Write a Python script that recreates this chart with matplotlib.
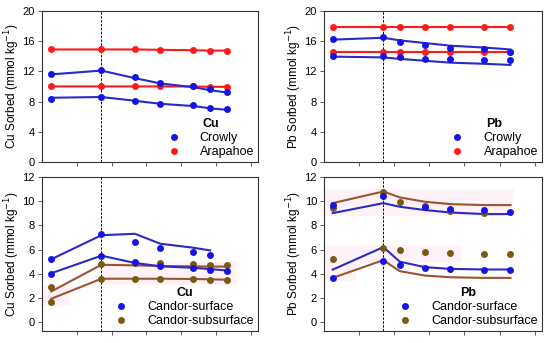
import matplotlib.pyplot as plt
import numpy as np

plt.rcParams['font.family'] = ['Liberation Sans', 'DejaVu Sans']

# x positions (same steps used in all panels)
x_cu = [0.27, 1.71, 2.67, 3.40, 4.35, 4.83, 5.31]
x_pb = [0.25, 1.69, 2.16, 2.88, 3.60, 4.57, 5.31]

# top left: Cu, Crowly / Arapahoe
cu_crow_hi = [11.7, 12.2, 11.2, 10.5, 10.0, 9.6, 9.3]
cu_crow_hi_fit = [11.6, 12.1, 11.1, 10.4, 9.9, 9.5, 9.2]
cu_crow_lo = [8.3, 8.6, 8.1, 7.7, 7.5, 7.2, 7.0]
cu_crow_lo_fit = [8.5, 8.6, 8.1, 7.7, 7.4, 7.1, 6.9]
cu_arap_hi = [14.9, 14.9, 14.9, 14.85, 14.8, 14.75, 14.75]
cu_arap_lo = [10.0, 10.0, 10.0, 10.0, 10.0, 9.95, 9.95]

# top right: Pb, Crowly / Arapahoe
pb_crow_hi = [16.3, 16.5, 15.9, 15.5, 15.1, 14.9, 14.6]
pb_crow_hi_fit = [16.2, 16.45, 16.1, 15.75, 15.4, 15.15, 14.9]
pb_crow_lo = [14.0, 14.0, 13.9, 13.7, 13.6, 13.5, 13.45]
pb_crow_lo_fit = [13.95, 13.85, 13.65, 13.4, 13.15, 13.0, 12.85]
pb_arap_hi = [17.9, 17.9, 17.9, 17.9, 17.9, 17.9, 17.9]
pb_arap_lo = [14.5, 14.5, 14.5, 14.5, 14.5, 14.5, 14.5]

# bottom left: Cu, Candor
cu_surf_hi = [5.2, 7.3, 6.65, 6.15, 5.8, 5.55, np.nan]
cu_surf_hi_fit = [5.2, 7.18, 7.3, 6.48, 6.15, 5.93, np.nan]
cu_surf_lo = [3.95, 5.5, 4.95, 4.65, 4.45, 4.3, 4.2]
cu_surf_lo_fit = [4.05, 5.5, 4.9, 4.62, 4.5, 4.39, 4.28]
cu_sub_hi = [2.9, 4.78, 4.86, 4.86, 4.8, 4.75, 4.72]
cu_sub_hi_fit = [2.55, 4.75, 4.7, 4.65, 4.62, 4.6, 4.6]
cu_sub_lo = [1.65, 3.6, 3.6, 3.6, 3.55, 3.52, 3.48]
cu_sub_lo_fit = [1.95, 3.6, 3.6, 3.6, 3.58, 3.55, 3.52]

# bottom right: Pb, Candor
pb_surf_hi = [9.65, 10.4, np.nan, 9.5, 9.35, 9.25, 9.1]
pb_surf_hi_fit = [9.0, 9.82, 9.52, 9.25, 9.05, 8.92, 8.92]
pb_surf_lo = [3.67, 5.05, 4.7, 4.5, 4.4, 4.3, 4.3]
pb_surf_lo_fit = [4.35, 6.2, 5.0, 4.55, 4.41, 4.36, 4.36]
pb_sub_hi = [9.45, 10.7, 9.95, 9.55, 9.2, 8.97, np.nan]
pb_sub_hi_fit = [9.82, 10.78, 10.29, 9.93, 9.74, 9.66, 9.66]
pb_sub_lo = [5.2, 6.15, 5.93, 5.8, 5.7, 5.65, 5.65]
pb_sub_lo_fit = [3.67, 5.13, 4.22, 3.86, 3.72, 3.67, 3.67]

# faint pink highlight boxes seen behind the Candor panels (x0, x1, y0, y1)
cu_pink = [(1.71, 5.6, 3.1, 4.95), (0.0, 0.8, 1.4, 3.1)]
pb_pink = [(0.0, 5.4, 8.8, 11.0), (0.0, 3.9, 4.9, 6.4), (0.0, 0.9, 3.4, 5.5)]

blue = '#1414e6'
blue_line = '#2a2ac8'
red = '#ff1a1a'
brown = '#7a5a12'
brown_line = '#a0522d'
pink = '#fff2f8'

fig = plt.figure(figsize=(5.5, 3.43), dpi=100)
ax1 = fig.add_axes([0.076, 0.528, 0.393, 0.440])
ax2 = fig.add_axes([0.589, 0.528, 0.396, 0.440])
ax3 = fig.add_axes([0.076, 0.035, 0.393, 0.450])
ax4 = fig.add_axes([0.589, 0.035, 0.396, 0.450])


def series(ax, x, pts, fit, c, lc, label=None):
    ax.plot(x, fit, '-', color=lc, lw=1.5, zorder=2)
    ax.plot(x, pts, 'o', color=c, ms=5, mec='none', zorder=3, label=label)


def shade(ax, boxes):
    for x0, x1, y0, y1 in boxes:
        ax.fill_between([x0, x1], y0, y1, color=pink, lw=0, zorder=0)


def style(ax, el, ylim, yticks, ylabel, title):
    ax.set_xlim(0, 6.2)
    ax.set_ylim(*ylim)
    ax.set_yticks(yticks)
    ax.set_xticks([1, 2, 3, 4, 5, 6])
    ax.set_xticklabels([])
    ax.tick_params(labelsize=8, length=3, width=0.6, color='#444444', pad=2)
    for s in ax.spines.values():
        s.set_linewidth(0.8)
        s.set_color('#333333')
    ax.axvline(el, color='black', ls=(0, (2.5, 1.5)), lw=0.7, zorder=1)
    ax.set_ylabel(ylabel, fontsize=8.5, labelpad=0.5)
    leg = ax.legend(loc='lower right', frameon=False, fontsize=9, title=title,
                    handletextpad=1.6, borderaxespad=0.1, labelspacing=0.15,
                    handlelength=1.0, borderpad=0.2)
    leg.get_title().set_fontweight('bold')
    leg.get_title().set_fontsize(9)


series(ax1, x_cu, cu_arap_hi, cu_arap_hi, red, red)
series(ax1, x_cu, cu_arap_lo, cu_arap_lo, red, red)
series(ax1, x_cu, cu_crow_hi, cu_crow_hi_fit, blue, blue_line, 'Crowly')
series(ax1, x_cu, cu_crow_lo, cu_crow_lo_fit, blue, blue_line)
ax1.plot([], [], 'o', color=red, ms=5, mec='none', label='Arapahoe')
style(ax1, x_cu[1], (0, 20), [0, 4, 8, 12, 16, 20],
      'Cu Sorbed (mmol kg$^{-1}$)', 'Cu')

series(ax2, x_pb, pb_arap_hi, pb_arap_hi, red, red)
series(ax2, x_pb, pb_arap_lo, pb_arap_lo, red, red)
series(ax2, x_pb, pb_crow_hi, pb_crow_hi_fit, blue, blue_line, 'Crowly')
series(ax2, x_pb, pb_crow_lo, pb_crow_lo_fit, blue, blue_line)
ax2.plot([], [], 'o', color=red, ms=5, mec='none', label='Arapahoe')
style(ax2, x_pb[1], (0, 20), [0, 4, 8, 12, 16, 20],
      'Pb Sorbed (mmol kg$^{-1}$)', 'Pb')

shade(ax3, cu_pink)
series(ax3, x_cu, cu_sub_hi, cu_sub_hi_fit, brown, brown_line)
series(ax3, x_cu, cu_sub_lo, cu_sub_lo_fit, brown, brown_line)
series(ax3, x_cu, cu_surf_hi, cu_surf_hi_fit, blue, blue_line, 'Candor-surface')
series(ax3, x_cu, cu_surf_lo, cu_surf_lo_fit, blue, blue_line)
ax3.plot([], [], 'o', color=brown, ms=5, mec='none', label='Candor-subsurface')
style(ax3, x_cu[1], (-0.7, 12), [0, 2, 4, 6, 8, 10, 12],
      'Cu Sorbed (mmol kg$^{-1}$)', 'Cu')

shade(ax4, pb_pink)
series(ax4, x_pb, pb_sub_hi, pb_sub_hi_fit, brown, brown_line)
series(ax4, x_pb, pb_sub_lo, pb_sub_lo_fit, brown, brown_line)
series(ax4, x_pb, pb_surf_hi, pb_surf_hi_fit, blue, blue_line, 'Candor-surface')
series(ax4, x_pb, pb_surf_lo, pb_surf_lo_fit, blue, blue_line)
ax4.plot([], [], 'o', color=brown, ms=5, mec='none', label='Candor-subsurface')
style(ax4, x_pb[1], (-0.7, 12), [0, 2, 4, 6, 8, 10, 12],
      'Pb Sorbed (mmol kg$^{-1}$)', 'Pb')

fig.savefig('out.png', dpi=100)
